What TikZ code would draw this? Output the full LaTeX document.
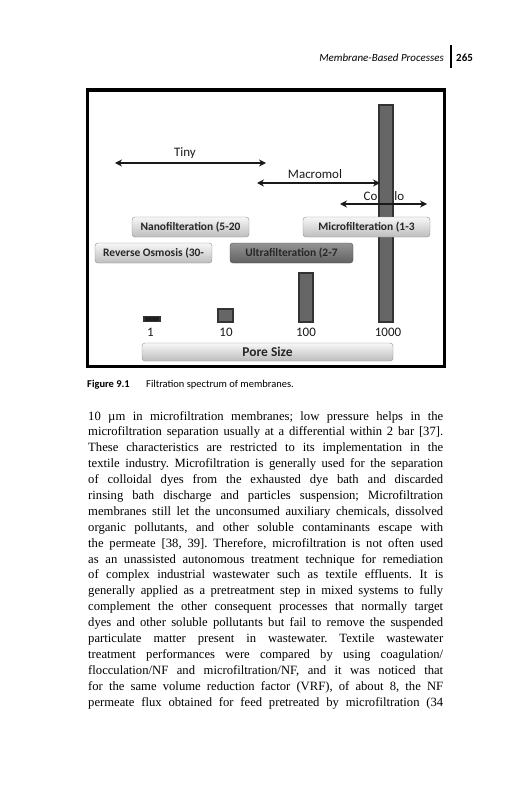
\documentclass[tikz,border=0pt]{standalone}
\usepackage{fontspec}
\setmainfont{Liberation Serif}
\newfontfamily\calibri{Carlito}
\usetikzlibrary{arrows.meta}
\begin{document}
\begin{tikzpicture}[x=1bp,y=-1bp]
			\tikzstyle{lbox}=[rounded corners=3bp,draw=black!45,top color=black!3,bottom color=black!26,text=black!85,font=\calibri\bfseries\fontsize{11.5}{12}\selectfont,minimum height=20bp,inner sep=0pt]
			\tikzstyle{dbox}=[lbox,draw=black!70,top color=black!42,bottom color=black!62]
			\tikzstyle{sizebar}=[draw=black!80,fill=black!60,line width=1.2bp,inner sep=0pt]
			\tikzstyle{lab}=[text=black!90,font=\calibri\fontsize{13}{13}\selectfont,inner sep=0pt]
			\tikzstyle{sizerange}=[{Stealth[length=7bp,width=7bp]}-{Stealth[length=7bp,width=7bp]},line width=1.8bp,black!90]
			\useasboundingbox (0,0) rectangle (531,800);
			\fill[white] (0,0) rectangle (531,800);
			
			\node[anchor=base east,inner sep=0pt,font=\calibri\itshape\fontsize{11}{11}\selectfont] (runhead) at (444,62) {Membrane-Based Processes};
			\node[anchor=base west,inner sep=0pt,font=\calibri\bfseries\fontsize{11}{11}\selectfont] (folio) at (456,62) {265};
			\draw[line width=1.5bp] (451,45) -- (451,68);
			
			\draw[line width=3.2bp] (87.7,90) rectangle (444.3,366.7);
			\begin{scope}
			\node[lab,anchor=base west] (collo) at (363.5,200) {Co\kern3bp l\kern11bp lo};
			\node[sizebar,minimum width=14bp,minimum height=217bp] (b1000) at (386,213.5) {};
			\node[sizebar,minimum width=14bp,minimum height=49bp] (b100) at (306,297.5) {};
			\node[sizebar,minimum width=15bp,minimum height=13bp] (b10) at (225.5,315.5) {};
			\node[sizebar,fill=black!88,minimum width=16bp,minimum height=5bp] (b1) at (152,319.2) {};
			\node[lab] (tiny) at (185,153) {Tiny};
			\node[lab] (macro) at (315,174) {Macromol};
			\coordinate (tinyL) at (115,163);
			\coordinate (tinyR) at (266,163);
			\coordinate (macroL) at (257,183);
			\coordinate (macroR) at (380,183);
			\coordinate (colloL) at (340,204);
			\coordinate (colloR) at (427,204);
			\node[lbox,minimum width=117bp] (nano) at (190.5,227) {Nanofilteration (5-20};
			\node[lbox,minimum width=127bp] (micro) at (366.5,227) {Microfilteration (1-3};
			\node[lbox,minimum width=117bp] (ro) at (153.5,253) {Reverse Osmosis (30-};
			\node[dbox,minimum width=123bp] (ultra) at (291.5,253) {Ultrafilteration (2-7};
			\node[lab,anchor=base] (n1) at (150.5,336) {1};
			\node[lab,anchor=base] (n10) at (226,336) {10};
			\node[lab,anchor=base] (n100) at (306,336) {100};
			\node[lab,anchor=base] (n1000) at (388,336) {1000};
			\node[lbox,minimum width=251bp,minimum height=18bp,font=\calibri\bfseries\fontsize{13.5}{14}\selectfont] (pore) at (267.5,352) {Pore Size};
			\end{scope}
			
			\path[sizerange]
			(tinyL) edge (tinyR)
			(macroL) edge (macroR)
			(colloL) edge (colloR)
			;
			
			\node[anchor=base west,inner sep=0pt,font=\calibri\bfseries\fontsize{10.5}{11}\selectfont] (figno) at (87,387) {Figure 9.1};
			\node[anchor=base west,inner sep=0pt,font=\calibri\fontsize{10.5}{11}\selectfont] (figcap) at (146,387) {Filtration spectrum of membranes.};
			
			\node[anchor=base west,inner sep=0pt,text width=355bp,align=justify,font=\fontsize{12.7}{15.95}\selectfont] (body) at (88,420) {\frenchspacing\hyphenpenalty=10000\tolerance=10000
			10 µm in microfiltration membranes; low pressure helps in the\linebreak
			microfiltration separation usually at a differential within 2 bar [37].\linebreak
			These characteristics are restricted to its implementation in the\linebreak
			textile industry. Microfiltration is generally used for the separation\linebreak
			of colloidal dyes from the exhausted dye bath and discarded\linebreak
			rinsing bath discharge and particles suspension; Microfiltration\linebreak
			membranes still let the unconsumed auxiliary chemicals, dissolved\linebreak
			organic pollutants, and other soluble contaminants escape with\linebreak
			the permeate [38, 39]. Therefore, microfiltration is not often used\linebreak
			as an unassisted autonomous treatment technique for remediation\linebreak
			of complex industrial wastewater such as textile effluents. It is\linebreak
			generally applied as a pretreatment step in mixed systems to fully\linebreak
			complement the other consequent processes that normally target\linebreak
			dyes and other soluble pollutants but fail to remove the suspended\linebreak
			particulate matter present in wastewater. Textile wastewater\linebreak
			treatment performances were compared by using coagulation/\linebreak
			flocculation/NF and microfiltration/NF, and it was noticed that\linebreak
			for the same volume reduction factor (VRF), of about 8, the NF\linebreak
			permeate flux obtained for feed pretreated by microfiltration (34\parfillskip=0pt\par};
		\end{tikzpicture}
\end{document}
